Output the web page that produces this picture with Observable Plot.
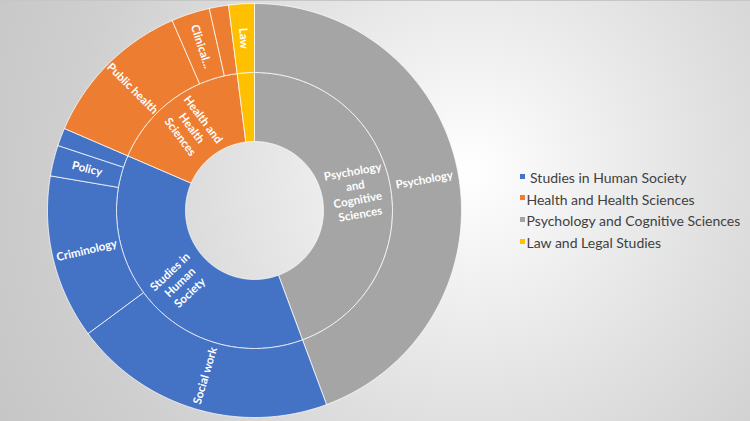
<!DOCTYPE html>
<html>
<head>
<meta charset="utf-8">
<script src="https://cdn.jsdelivr.net/npm/d3@7"></script>
<script src="https://cdn.jsdelivr.net/npm/@observablehq/plot@0.6"></script>
<style>
html, body { margin: 0; padding: 0; }
body {
  width: 750px; height: 421px; overflow: hidden;
  background: radial-gradient(circle at 470px 170px, #ffffff 0px, #f1f1f1 110px, #e0e0e0 250px, #cfcfcf 400px, #c4c4c4 560px);
  box-shadow: inset 0 1px 0 #c6c6c6;
}
#wrap { position: relative; width: 750px; height: 421px; }
#chart { position: absolute; left: 0; top: 0; }
#legend { position: absolute; left: 520px; top: 167px; }
.lg-swatch { display: flex !important; align-items: center !important; height: 21.6px; padding-bottom: 0 !important; }
.lg-swatch > svg { display: block; position: relative; top: -1.5px; margin-right: 1.5px !important; }
.lg-swatch-label { color: #404040; line-height: 21.6px; }
</style>
</head>
<body>
<div id="wrap"><div id="chart"></div><div id="legend"></div></div>
<script>
// ---- data ----
const categories = ["Psychology and Cognitive Sciences", "Studies in Human Society", "Health and Health Sciences", "Law and Legal Studies"];
const categoryRingLabels = ["Psychology\nand\nCognitive\nSciences", "Studies in\nHuman\nSociety", "Health and\nHealth\nSciences", ""];
const subfieldNames = ["Psychology", "Social work", "Criminology", "Policy", "Other (Human Society)", "Public health", "Clinical", "Other (Health)", "Law"];
const subfieldLabels = ["Psychology", "Social work", "Criminology", "Policy", "", "Public health", "Clinical...", "", "Law"];
const subfieldCategory = ["Psychology and Cognitive Sciences", "Studies in Human Society", "Studies in Human Society", "Studies in Human Society", "Studies in Human Society", "Health and Health Sciences", "Health and Health Sciences", "Health and Health Sciences", "Law and Legal Studies"];
const subfieldValues = [44.3, 20.5, 12.8, 2.4, 1.4, 12.0, 3.0, 1.5, 2.0];
const legendOrder = ["Studies in Human Society", "Health and Health Sciences", "Psychology and Cognitive Sciences", "Law and Legal Studies"];
const legendLabels = ["\u00a0Studies in Human Society", "Health and Health Sciences", "Psychology and Cognitive Sciences", "Law and Legal Studies"];
const colors = ["#4472C4", "#ED7D31", "#A5A5A5", "#FFC000"];

// ---- layout ----
const R0 = 69, R1 = 138, R2 = 207;
const total = d3.sum(subfieldValues);
const toDeg = v => v / total * 360;

// outer ring segments
let acc = 0;
const outerSegs = subfieldValues.map((v, i) => {
  const a0 = toDeg(acc); acc += v; const a1 = toDeg(acc);
  return {id: "o" + i, cat: subfieldCategory[i], a0, a1, r0: R1, r1: R2, label: subfieldLabels[i]};
});
// inner ring segments (aggregate by category, preserving order)
const innerSegs = categories.map((c, i) => {
  const segs = outerSegs.filter(s => s.cat === c);
  return {id: "i" + i, cat: c, a0: d3.min(segs, s => s.a0), a1: d3.max(segs, s => s.a1), r0: R0, r1: R1, label: categoryRingLabels[i]};
});

function arcPoints(s) {
  const n = Math.max(2, Math.ceil((s.a1 - s.a0) * 2));
  const pts = [];
  for (let k = 0; k <= n; k++) {
    const a = (s.a0 + (s.a1 - s.a0) * k / n) * Math.PI / 180;
    pts.push({id: s.id, cat: s.cat, x: s.r1 * Math.sin(a), y: s.r1 * Math.cos(a)});
  }
  for (let k = n; k >= 0; k--) {
    const a = (s.a0 + (s.a1 - s.a0) * k / n) * Math.PI / 180;
    pts.push({id: s.id, cat: s.cat, x: s.r0 * Math.sin(a), y: s.r0 * Math.cos(a)});
  }
  pts.push({...pts[0]});
  return pts;
}
const segs = [...innerSegs, ...outerSegs];
const ringPts = segs.flatMap(arcPoints);

function labelPos(s) {
  const mid = (s.a0 + s.a1) / 2;
  const r = (s.r0 + s.r1) / 2;
  const a = mid * Math.PI / 180;
  const rotate = mid < 180 ? mid - 90 : mid - 270;
  return {x: r * Math.sin(a), y: r * Math.cos(a), rotate, text: s.label};
}
const outerLabels = outerSegs.filter(s => s.label).map(labelPos);
const innerLabels = innerSegs.filter(s => s.label).map(labelPos);

const font = "Lato, 'Open Sans', sans-serif";

const chart = Plot.plot({
  width: 750, height: 421, margin: 0,
  x: {domain: [-254, 496], axis: null},
  y: {domain: [-211, 210], axis: null},
  color: {domain: legendOrder, range: colors},
  style: {background: "transparent", overflow: "visible"},
  marks: [
    Plot.line(ringPts, {x: "x", y: "y", z: "id", fill: "cat", stroke: "white", strokeWidth: 1, strokeOpacity: 0.75, curve: "linear"}),
    Plot.text(outerLabels, {x: "x", y: "y", text: "text", rotate: "rotate", fill: "white", fontSize: 11.5, fontWeight: "bold", fontFamily: font}),
    Plot.text(innerLabels, {x: "x", y: "y", text: "text", rotate: "rotate", fill: "white", fontSize: 11.5, fontWeight: "bold", fontFamily: font, lineHeight: 1.25})
  ]
});
document.getElementById("chart").append(chart);

const labelOf = new Map(legendOrder.map((d, i) => [d, legendLabels[i]]));
const legend = Plot.legend({
  color: {domain: legendOrder, range: colors},
  legend: "swatches",
  columns: 1,
  swatchSize: 5,
  className: "lg",
  tickFormat: d => labelOf.get(d),
  style: {fontFamily: font, fontSize: "14px", width: "240px", marginBottom: "0", background: "transparent", color: "#404040"}
});
document.getElementById("legend").append(legend);
</script>
</body>
</html>
